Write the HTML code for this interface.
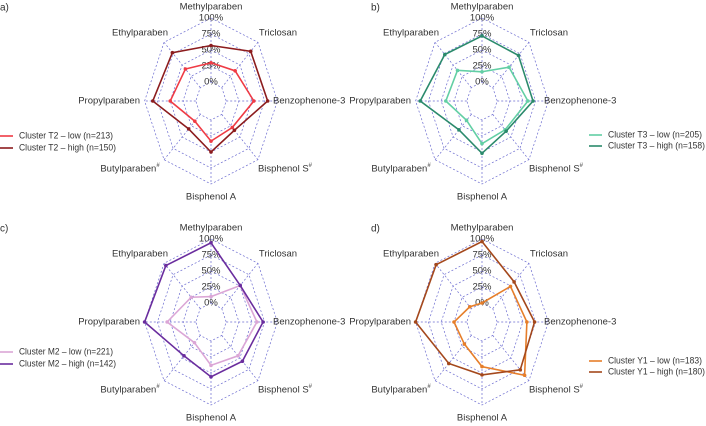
<!DOCTYPE html>
<html><head><meta charset="utf-8">
<style>
body{margin:0;background:#fff;}
svg{display:block;font-family:"Liberation Sans",sans-serif;}
</style></head>
<body>
<svg id="chart" width="706" height="426" viewBox="0 0 706 426"></svg>
<script>
const axes = ["Methylparaben","Triclosan","Benzophenone-3","Bisphenol S#","Bisphenol A","Butylparaben#","Propylparaben","Ethylparaben"];
const ticks = ["0%","25%","50%","75%","100%"];
const tickValues = [0,25,50,75,100];
const t2Low  = [30,37,54,29,33,15,50,41];
const t2High = [57,80,81,35,50,32,84,77];
const t3Low  = [16,45,60,34,37,13,41,38];
const t3High = [72,71,70,37,52,34,91,73];
const m2Low  = [10,51,60,45,38,16,56,25];
const m2High = [94,51,72,57,56,45,100,95];
const y1Low  = [0,49,58,88,40,19,25,4];
const y1High = [96,59,73,76,53,62,100,97];

const panels = [
 {id:"a",cx:211,cy:101,series:[["Cluster T2 – low (n=213)",t2Low,"#ef3b45"],["Cluster T2 – high (n=150)",t2High,"#8c1c1e"]],leg:[0,136,12]},
 {id:"b",cx:482,cy:101,series:[["Cluster T3 – low (n=205)",t3Low,"#62cfa4"],["Cluster T3 – high (n=158)",t3High,"#2b8a6c"]],leg:[589,135,11]},
 {id:"c",cx:211,cy:322,series:[["Cluster M2 – low (n=221)",m2Low,"#dba6d6"],["Cluster M2 – high (n=142)",m2High,"#6a2d9e"]],leg:[0,352,12]},
 {id:"d",cx:482,cy:322,series:[["Cluster Y1 – low (n=183)",y1Low,"#e67e2a"],["Cluster Y1 – high (n=180)",y1High,"#a4481c"]],leg:[589,361,11]}
];
const NS="http://www.w3.org/2000/svg";
const svg=document.getElementById("chart");
const XS=0.8;
function rScale(v){return 19+0.64*v;}
function ang(i){return -Math.PI/2+i*2*Math.PI/axes.length;}
function pt(cx,cy,i,v){const r=rScale(v);return [cx+XS*r*Math.cos(ang(i)),cy+r*Math.sin(ang(i))];}
function mk(tag,attrs,parent){const e=document.createElementNS(NS,tag);for(const k in attrs)e.setAttribute(k,attrs[k]);(parent||svg).appendChild(e);return e;}
function txt(s,x,y,anchor,parent,fs){const t=mk("text",{x:x,y:y,"font-size":fs||"9.5","fill":"#333","text-anchor":anchor,"dominant-baseline":"middle"},parent);
 const m=s.match(/^(.*)#$/); if(m){t.textContent=m[1];const ts=mk("tspan",{"font-size":"6","dy":"-4"},t);ts.textContent="#";}else t.textContent=s;return t;}

const labelOff=[[0,-94,"middle"],[67,-68,"middle"],[62,0,"start"],[74,68,"middle"],[0,96,"middle"],[-81,68,"middle"],[-71,0,"end"],[-71,-68,"middle"]];

panels.forEach(p=>{
 const g=mk("g",{});
 
 
 const lab=txt(p.id+")",p.id==="a"||p.id==="c"?0:371,p.id==="a"||p.id==="b"?8:229,"start",g,"10");
 
 
 tickValues.forEach(v=>{
  const pts=axes.map((a,i)=>pt(p.cx,p.cy,i,v).join(",")).join(" ");
  const ring=mk("polygon",{points:pts,fill:"none",stroke:"#6b6bd0","stroke-width":"0.7","stroke-dasharray":"2,2"},g);
  
  
 });
 axes.forEach((a,i)=>{
  const p0=pt(p.cx,p.cy,i,0),p1=pt(p.cx,p.cy,i,100);
  const l=mk("line",{x1:p0[0],y1:p0[1],x2:p1[0],y2:p1[1],stroke:"#6b6bd0","stroke-width":"0.7","stroke-dasharray":"2,2"},g);
  
  
  const o=labelOff[i];
  const t=txt(a,p.cx+o[0],p.cy+o[1],o[2],g);
  
  
 });
 ticks.forEach((tk,k)=>{
  const t=txt(tk,p.cx,p.cy-rScale(tickValues[k]),"middle",g);
  
  
 });
 p.series.forEach((s,si)=>{
  const pts=s[1].map((v,i)=>pt(p.cx,p.cy,i,v));
  const poly=mk("polygon",{points:pts.map(q=>q.join(",")).join(" "),fill:"none",stroke:s[2],"stroke-width":"1.6"},g);
  
  
  pts.forEach(q=>{
   const c=mk("circle",{cx:q[0],cy:q[1],r:1.8,fill:s[2]},g);
   
   
  });
  const ly=p.leg[1]+si*p.leg[2];
  const ll=mk("line",{x1:p.leg[0],y1:ly,x2:p.leg[0]+13,y2:ly,stroke:s[2],"stroke-width":"1.6"},g);
  
  
  const lt=txt(s[0],p.leg[0]+19,ly,"start",g,"9.5");
  lt.setAttribute('textLength', si===0?"94":"97");
  lt.setAttribute('lengthAdjust','spacingAndGlyphs');
  
  
 });
});
</script>
</body></html>
